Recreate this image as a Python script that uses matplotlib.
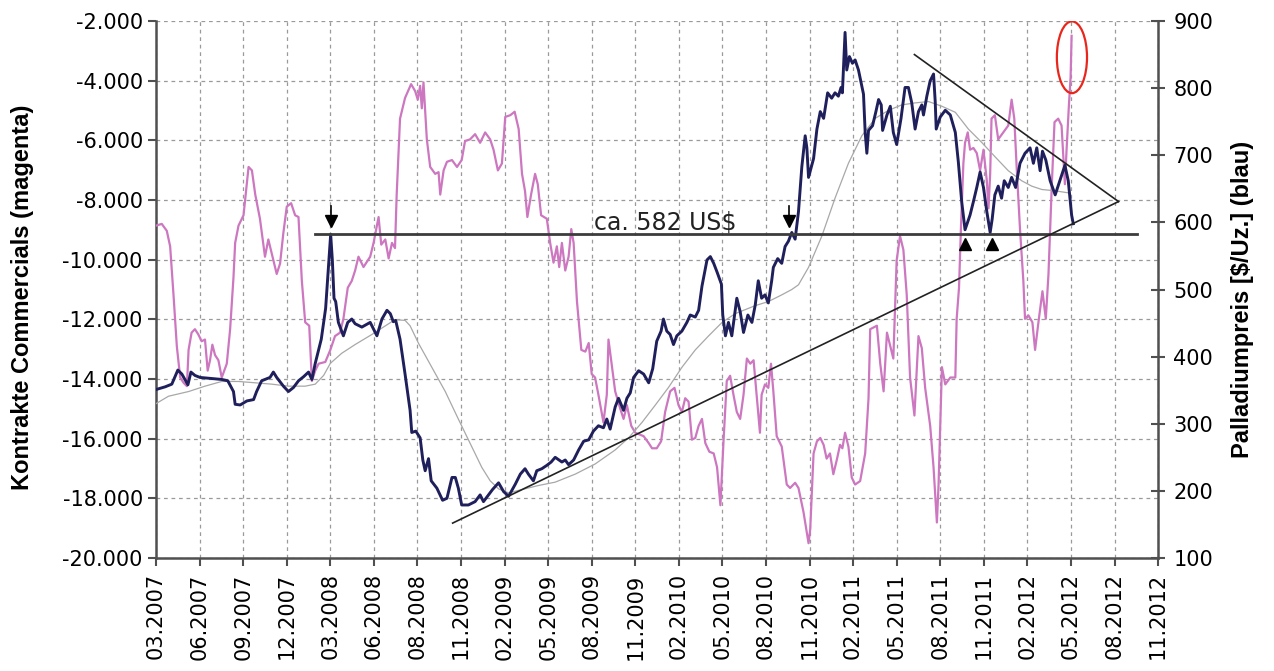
import numpy as np
import matplotlib
matplotlib.use('Agg')
import matplotlib.pyplot as plt
from matplotlib.ticker import FuncFormatter
from matplotlib.patches import Ellipse

# x axis: weeks since the first label (weekly COT data, label every 13 weeks)
tick_labels = ['03.2007', '06.2007', '09.2007', '12.2007', '03.2008', '06.2008',
               '08.2008', '11.2008', '02.2009', '05.2009', '08.2009', '11.2009',
               '02.2010', '05.2010', '08.2010', '11.2010', '02.2011', '05.2011',
               '08.2011', '11.2011', '02.2012', '05.2012', '08.2012', '11.2012']

# Palladium price [$/oz] (navy, right axis)
pd_weeks = [0, 2.7, 4.7, 6.5, 7.7, 9.5, 10.4, 11.6, 13.1, 19.6, 21.4, 23.1, 23.6, 25.1, 27.1,
            29.1, 30.0, 31.5, 34.0, 35.0, 36.0, 38.0, 39.5, 41.0, 42.5, 44.0, 45.5, 46.5, 47.5,
            49.3, 50.6, 51.6, 52.1, 52.6, 53.1, 53.6, 54.4, 55.9, 57.2, 58.4, 59.4, 61.4, 63.9,
            65.9, 67.4, 68.9, 69.9, 70.8, 71.5, 72.8, 74.3, 75.8, 76.3, 77.5, 78.8, 79.6, 80.3,
            81.3, 82.1, 83.8, 85.5, 86.8, 88.3, 89.3, 90.2, 91.2, 93.2, 95.2, 96.7, 97.7, 99.2,
            100.4, 102.2, 103.7, 105.2, 107.2, 108.7, 110.1, 111.1, 112.6, 113.6, 115.1, 116.6,
            117.9, 119.1, 121.1, 122.1, 123.1, 124.6, 126.1, 127.6, 129.1, 130.5, 132.0, 133.5,
            134.5, 135.5, 137.0, 138.0, 139.5, 140.5, 141.5, 142.5, 144.0, 145.5, 147.0, 148.2,
            149.4, 150.7, 151.4, 152.4, 153.4, 154.4, 155.4, 156.9, 158.4, 159.4, 160.9, 161.9,
            162.9, 164.4, 165.4, 166.4, 167.4, 168.7, 169.1, 169.9, 170.8, 171.8, 173.3, 174.3,
            175.3, 176.6, 177.8, 178.8, 179.7, 180.7, 181.7, 182.7, 183.7, 184.2, 185.5, 186.7,
            187.7, 188.7, 189.7, 190.7, 191.7, 192.7, 193.7, 194.2, 194.7, 196.2, 197.2, 198.2,
            199.2, 200.4, 201.6, 202.6, 203.6, 204.4, 204.8, 205.6, 206.1, 206.9, 207.8, 208.6,
            209.6, 211.1, 211.6, 212.1, 212.6, 213.8, 214.8, 215.6, 216.4, 216.8, 218.1, 219.1,
            220.0, 221.0, 222.3, 223.5, 224.5, 225.5, 226.5, 227.5, 228.5, 229.0, 230.0, 231.0,
            232.0, 232.5, 232.8, 234.0, 235.5, 237.0, 238.5, 239.4, 240.4, 241.4, 242.9, 243.9,
            244.9, 245.9, 246.9, 247.9, 248.9, 249.5, 250.3, 251.3, 252.3, 253.1, 254.3, 255.3,
            256.5, 257.8, 259.3, 260.8, 261.8, 262.8, 263.8, 264.5, 265.5, 266.8, 268.3, 269.7,
            271.2, 272.2, 273.2, 273.7]
pd_price = [351, 355, 359, 380, 374, 358, 377, 372, 369, 366, 364, 348, 329, 328, 334,
            336, 348, 364, 369, 377, 369, 356, 348, 354, 364, 370, 377, 366, 390,
            426, 472, 544, 582, 544, 487, 482, 451, 431, 451, 456, 449, 444, 451,
            431, 456, 469, 464, 452, 454, 426, 374, 320, 287, 289, 279, 246, 230,
            248, 215, 204, 186, 189, 220, 220, 204, 179, 179, 184, 194, 184, 194,
            202, 212, 199, 192, 210, 225, 233, 225, 215, 230, 233, 238,
            243, 250, 243, 246, 239, 246, 261, 274, 276, 289, 297, 294,
            307, 292, 325, 338, 320, 338, 346, 369, 379, 374, 361, 382,
            423, 438, 456, 438, 433, 418, 431, 438, 451, 462, 459, 469,
            505, 544, 549, 539, 526, 508, 462, 431, 451, 431, 487, 467,
            436, 462, 451, 477, 513, 487, 492, 480, 513, 533, 546, 539,
            564, 572, 585, 575, 616, 683, 729, 711, 667, 695, 739, 765,
            755, 793, 785, 793, 788, 801, 793, 883, 827, 847, 837, 842,
            827, 791, 734, 703, 737, 744, 765, 783, 775, 737, 760, 773,
            734, 716, 755, 801, 801, 778, 739, 765, 775, 760, 788, 811,
            821, 780, 739, 757, 767, 760, 734, 690, 631, 589, 611, 631,
            652, 675, 652, 616, 585, 605, 641, 654, 636, 662, 652, 667,
            652, 688, 703, 711, 688, 711, 677, 706, 693, 662, 641, 662,
            685, 662, 611, 598]

# moving average of the palladium price (thin grey, right axis)
ma_weeks = [0, 3.7, 9.7, 14.6, 19.6, 24.6, 29.6, 34.5, 39.5, 44.5, 47.5, 50.0, 52.0, 55.4,
            59.4, 64.4, 69.4, 71.3, 74.3, 75.8, 78.3, 82.3, 86.3, 90.2, 93.7, 97.2, 99.7,
            102.2, 105.2, 109.2, 114.1, 119.1, 125.1, 131.0, 137.0, 141.0, 145.0, 149.0,
            152.9, 156.9, 160.9, 164.9, 168.9, 172.8, 178.8, 182.7, 186.7, 189.7, 191.7,
            194.7, 198.7, 202.6, 206.6, 210.6, 214.6, 218.6, 222.5, 226.5, 230.5, 234.5,
            238.5, 242.4, 246.4, 250.3, 254.3, 258.3, 261.3, 264.3, 268.3, 272.2]
ma_price = [330, 341, 348, 356, 363, 363, 361, 359, 356, 356, 359, 372, 390, 405,
            418, 433, 449, 455, 454, 446, 420, 384, 348, 307, 271, 235, 215,
            203, 197, 202, 208, 213, 225, 240, 261, 279, 302, 328,
            354, 384, 410, 431, 451, 464, 476, 482, 492, 500, 507,
            533, 580, 636, 688, 729, 755, 767, 775, 778, 780, 773,
            764, 739, 719, 698, 677, 662, 654, 649, 647, 644]

# net position of the commercials [contracts] (magenta, left axis)
com_weeks = [0, 1.7, 3.2, 4.2, 5.2, 6.2, 7.2, 8.2, 9.2, 9.7, 10.6, 11.6, 12.6, 13.6, 14.6,
             15.4, 16.1, 16.8, 17.6, 18.6, 19.6, 21.1, 22.1, 23.1, 23.6, 24.6, 26.1, 27.6,
             28.6, 29.6, 31.0, 32.5, 33.5, 34.5, 36.0, 37.0, 38.0, 39.0, 40.3, 41.5, 42.5,
             43.5, 44.5, 45.7, 46.5, 47.5, 48.5, 50.5, 52.0, 53.4, 54.9, 55.9, 57.2, 58.4,
             59.4, 60.4, 61.9, 63.9, 64.9, 65.9, 66.4, 67.2, 68.4, 69.4, 70.4, 71.3, 71.8,
             72.8, 74.3, 76.1, 77.3, 78.1, 78.8, 79.3, 79.8, 80.8, 81.8, 83.3, 84.3, 84.8,
             85.8, 86.8, 88.3, 89.8, 91.2, 92.2, 93.7, 95.2, 96.7, 98.2, 99.7, 100.7, 102.0,
             103.2, 104.2, 105.7, 107.0, 108.2, 109.2, 110.1, 110.8, 111.9, 113.1, 113.9,
             114.9, 116.6, 117.6, 118.6, 119.6, 120.3, 121.1, 122.1, 123.1, 123.9, 124.6,
             125.6, 126.9, 128.1, 129.1, 130.0, 131.0, 132.0, 133.5, 134.5, 135.0, 135.8,
             137.0, 138.5, 139.5, 140.5, 141.8, 143.0, 145.5, 147.0, 148.0, 149.4, 150.7,
             151.9, 153.4, 154.7, 155.9, 156.9, 157.9, 158.9, 159.9, 160.9, 161.9, 162.9,
             163.9, 165.1, 166.4, 167.4, 168.4, 169.3, 170.3, 171.3, 172.3, 173.3, 174.3,
             175.3, 176.3, 177.3, 178.3, 179.2, 180.2, 180.7, 181.7, 182.7, 183.5, 184.2,
             185.2, 186.7, 188.2, 189.2, 190.7, 191.7, 193.2, 194.7, 195.2, 196.2, 197.2,
             198.2, 199.2, 200.1, 201.1, 202.1, 203.1, 204.1, 204.8, 205.6, 206.6, 207.6,
             208.6, 210.1, 211.6, 212.6, 213.1, 214.1, 215.1, 216.1, 217.1, 218.1, 219.1,
             220.0, 221.0, 222.0, 223.0, 224.0, 225.0, 226.3, 227.5, 228.5, 229.5, 231.0,
             232.0, 233.0, 233.5, 234.5, 235.5, 237.0, 238.5, 238.9, 239.6, 240.2, 240.9,
             241.4, 242.2, 242.9, 243.9, 244.9, 245.9, 246.9, 247.9, 248.4, 248.9, 249.3,
             250.3, 251.3, 252.8, 254.3, 255.3, 256.1, 256.8, 257.8, 258.8, 259.3, 260.3,
             261.5, 262.3, 263.3, 264.5, 265.5, 266.3, 267.3, 268.1, 269.2, 270.2, 271.2,
             271.7, 272.4, 272.9, 273.2]
com_net = [-8859, -8801, -9033, -9553, -11173, -12909, -13950, -14124, -14240, -13025, -12446,
           -12330, -12504, -12735, -12677, -13719, -13371, -12851, -13198, -13371, -13950,
           -13487, -12330, -10595, -9438, -8859, -8512, -6892, -7008, -7818, -8628, -9901,
           -9322, -9785, -10479, -10132, -9090, -8223, -8107, -8512, -8570, -10710, -12099,
           -12214, -14066, -13719, -13487, -13429, -13025, -12562, -12446, -11983, -10942,
           -10710, -10363, -9900, -10247, -9900, -9438, -8859, -8570, -9496, -9322, -9958,
           -9438, -9611, -7818, -5273, -4578, -4116, -4347, -4636, -4173, -4926, -4058,
           -5967, -6892, -7124, -7066, -7818, -7008, -6719, -6661, -6892, -6661, -6024,
           -5967, -5793, -6082, -5735, -5967, -6314, -7008, -6777, -5215, -5157, -5041,
           -5620, -7124, -7702, -8570, -7818, -7124, -7471, -8512, -8628, -9438, -10100,
           -9553, -10247, -9438, -10363, -9900, -8975, -9438, -11405, -13025, -13082,
           -12793, -13834, -13950, -14529, -15454, -14529, -12677, -13371, -14413, -14991,
           -15338, -14876, -15570, -15801, -15917, -16148, -16322, -16322, -16091, -15107,
           -14413, -14297, -14876, -15107, -14644, -14760, -16033, -15975, -15570, -15338,
           -16148, -16438, -16495, -16958, -18231, -16148, -14066, -13892, -14529, -15107,
           -15338, -14529, -13314, -13487, -13371, -14529, -15801, -14529, -14181, -14297,
           -13487, -14413, -15917, -16264, -17537, -17653, -17479, -17653, -18462, -19504,
           -19041, -16495, -16091, -15975, -16206, -16669, -16495, -17190, -16727, -16206,
           -16322, -15801, -16264, -17305, -17537, -17421, -16495, -14644, -12330, -12272,
           -12214, -13487, -14413, -12446, -12909, -13314, -10016, -9206, -9669, -11173,
           -13950, -15223, -12562, -12967, -14297, -15570, -16958, -18809, -17537, -13603,
           -14181, -13950, -13950, -11983, -10942, -8859, -6777, -6082, -5735, -6314, -6256,
           -6429, -7008, -6314, -7355, -8281, -7124, -5273, -5157, -5967, -5735, -5504,
           -4636, -5273, -6892, -8975, -10710, -11983, -11867, -12099, -13025, -12099,
           -11058, -11983, -10479, -7471, -5389, -5273, -5504, -7471, -6314, -4810, -3884,
           -2496]

# hand-drawn chart marks (week, price)
support_price = 582
support_span = [47.5, 292.6]
lower_trend = ([88.5, 287.2], [152, 631])
upper_trend = ([226.3, 287.2], [850, 631])
arrows_down = [52.1, 188.8]
arrows_up = [241.3, 249.4]

fig = plt.figure(figsize=(12.74, 6.71), dpi=100)
ax = fig.add_axes([0.1225, 0.1684, 0.7865, 0.8003])
ax2 = ax.twinx()

ax.plot(com_weeks, com_net, color='#cc77c0', lw=1.6, zorder=3)
ax.set_xlim(0, 299)
ax.set_ylim(-20000, -2000)
ax.set_xticks(np.arange(0, 300, 13))
ax.set_xticklabels(tick_labels, rotation=90, fontsize=15)
ax.set_yticks(np.arange(-20000, -1999, 2000))
ax.yaxis.set_major_formatter(FuncFormatter(lambda v, p: f'{v:,.0f}'.replace(',', '.')))
ax.tick_params(axis='y', labelsize=15, direction='out', length=6, width=1.5, color='#505050')
ax.tick_params(axis='x', direction='out', length=6, width=1.5, color='#505050', pad=5)
ax.grid(True, color='#9a9a9a', linestyle=(0, (3, 3)), lw=0.9)
ax.set_axisbelow(True)

ax2.plot(ma_weeks, ma_price, color='#a8a8a8', lw=0.9, zorder=2)
ax2.plot(pd_weeks, pd_price, color='#1f1f5c', lw=2.1, zorder=3)
ax2.plot(support_span, [support_price, support_price], color='#3c3c3c', lw=2, zorder=4)
ax2.plot(*lower_trend, color='#222222', lw=1.2, zorder=4)
ax2.plot(*upper_trend, color='#222222', lw=1.2, zorder=4)
ax2.set_ylim(100, 900)
ax2.set_yticks(np.arange(100, 901, 100))
ax2.tick_params(axis='y', labelsize=15, direction='inout', length=10, width=1.5,
                color='#505050', pad=6)

for w in arrows_down:
    ax2.plot([w, w], [624, 606], color='k', lw=1.2, zorder=5)
    ax2.plot(w, 602, marker='v', ms=9, color='k', zorder=5)
for w in arrows_up:
    ax2.plot(w, 568, marker='^', ms=9, color='k', zorder=5)

ax2.text(151.9, 589, 'ca. 582 US$', ha='center', va='baseline', fontsize=17, color='#222222')
ax2.add_patch(Ellipse((273.3, 846), width=9, height=107, fill=False,
                      ec='#e8261c', lw=1.6, zorder=6))

for a in (ax, ax2):
    a.spines['top'].set_visible(False)
    for s in ('left', 'right', 'bottom'):
        a.spines[s].set_color('#505050')
        a.spines[s].set_linewidth(1.8)
ax.spines['right'].set_visible(False)
ax2.spines['left'].set_visible(False)
ax2.spines['bottom'].set_visible(False)

fig.text(0.0173, 0.557, 'Kontrakte Commercials (magenta)', rotation=90, ha='center',
         va='center', fontsize=17, fontweight='bold', family='Liberation Sans')
fig.text(0.9755, 0.554, 'Palladiumpreis [$/Uz.] (blau)', rotation=90, ha='center',
         va='center', fontsize=17, fontweight='bold', family='Liberation Sans')

fig.savefig('out.png', dpi=100)
